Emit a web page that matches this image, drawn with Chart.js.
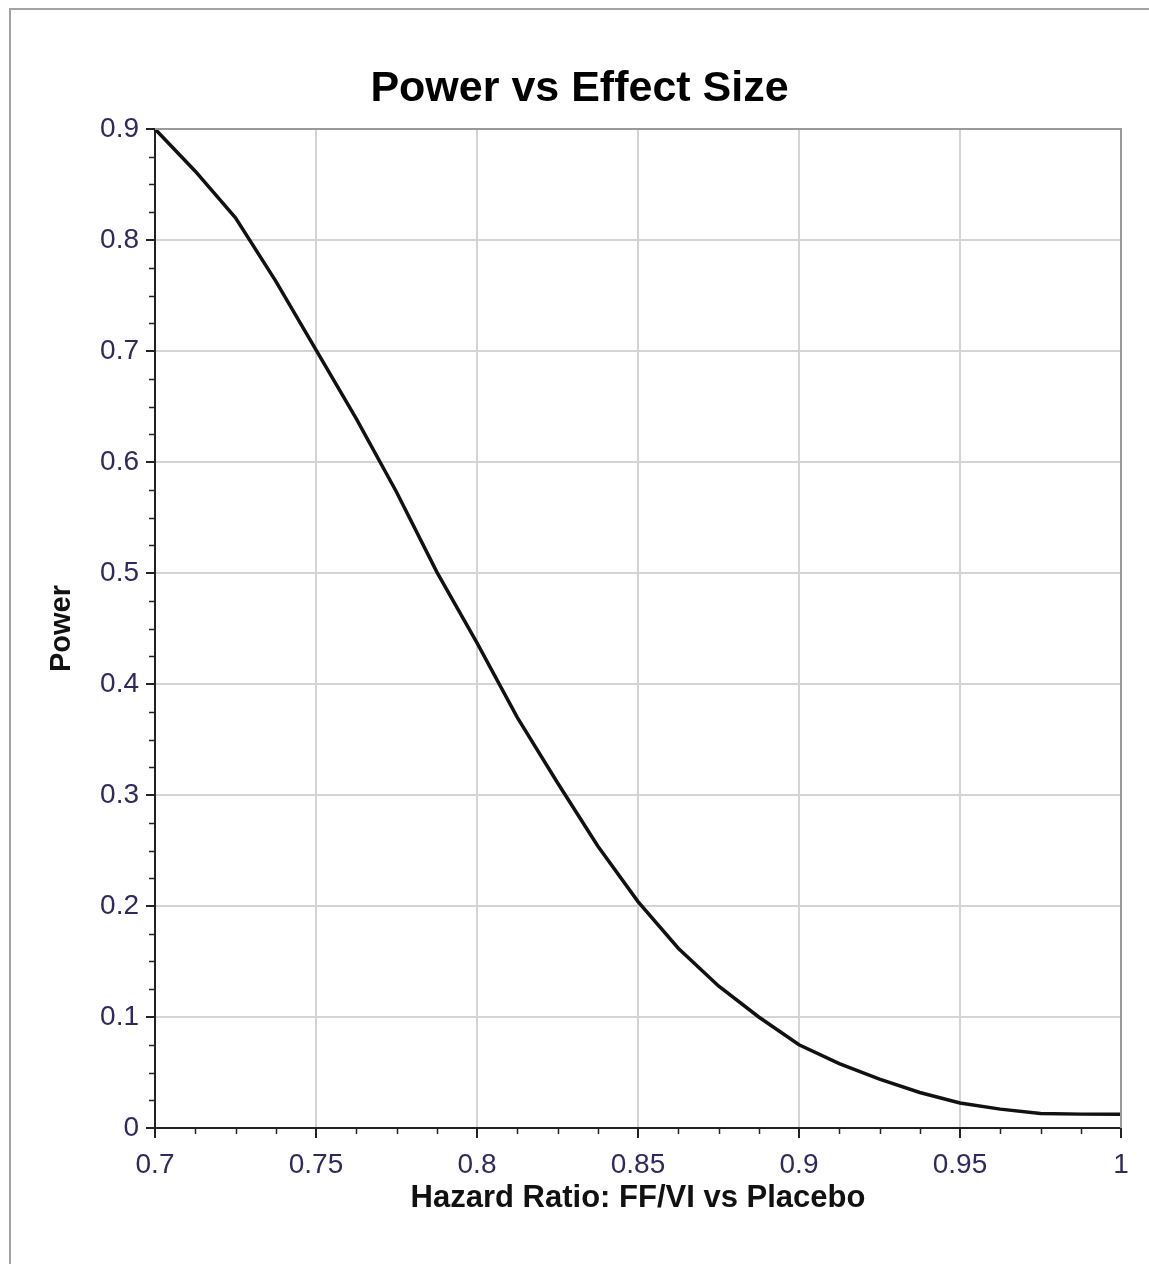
<!DOCTYPE html>
<html>
<head>
<meta charset="utf-8">
<title>Power vs Effect Size</title>
<script src="https://cdn.jsdelivr.net/npm/chart.js@4.4.0/dist/chart.umd.min.js"></script>
<style>
    html, body { margin: 0; padding: 0; background: #fff; overflow: hidden; }
    #wrap { width: 1149px; height: 1264px; position: relative; }
</style>
</head>
<body>
<div id="wrap"><canvas id="powerChart"></canvas></div>
<script>
// Hazard ratio (x) and power (y)
const hazardRatio = [0.7, 0.7125, 0.725, 0.7375, 0.75, 0.7625, 0.775, 0.7875, 0.8, 0.8125,
    0.825, 0.8375, 0.85, 0.8625, 0.875, 0.8875, 0.9, 0.9125, 0.925, 0.9375,
    0.95, 0.9625, 0.975, 0.9875, 1.0];
const power = [0.900, 0.862, 0.820, 0.763, 0.701, 0.639, 0.573, 0.501, 0.437, 0.370,
    0.311, 0.254, 0.204, 0.162, 0.128, 0.100, 0.075, 0.058, 0.044, 0.032,
    0.0225, 0.017, 0.013, 0.0125, 0.0125];

// Tick labels
const xTicks = [0.7, 0.75, 0.8, 0.85, 0.9, 0.95, 1];
const yTicks = [0, 0.1, 0.2, 0.3, 0.4, 0.5, 0.6, 0.7, 0.8, 0.9];
const xMinorPerMajor = 4;
const yMinorPerMajor = 4;

const tickFont = { family: 'Liberation Sans, Arial, sans-serif', size: 28 };
const tickColor = '#33285e';

const fmt = v => String(Number(v.toFixed(4)));

// gray outer frame + gray top/right plot border + minor ticks
const decorPlugin = {
    id: 'decor',
    beforeDraw(chart) {
        const ctx = chart.ctx;
        ctx.save();
        ctx.strokeStyle = '#a3a3a3';
        ctx.lineWidth = 2;
        ctx.beginPath();
        ctx.moveTo(10, chart.height + 5);
        ctx.lineTo(10, 9);
        ctx.lineTo(chart.width + 5, 9);
        ctx.stroke();
        ctx.restore();
    },
    afterDraw(chart) {
        const ctx = chart.ctx;
        const { left, right, top, bottom } = chart.chartArea;
        const xs = chart.scales.x, ys = chart.scales.y;
        ctx.save();
        ctx.strokeStyle = '#9a9a9a';
        ctx.lineWidth = 2;
        ctx.beginPath();
        ctx.moveTo(left, top);
        ctx.lineTo(right, top);
        ctx.lineTo(right, bottom);
        ctx.stroke();

        ctx.strokeStyle = '#222';
        ctx.lineWidth = 1.5;
        ctx.beginPath();
        for (let i = 0; i < xTicks.length - 1; i++) {
            const step = (xTicks[i + 1] - xTicks[i]) / xMinorPerMajor;
            for (let k = 1; k < xMinorPerMajor; k++) {
                const px = Math.round(xs.getPixelForValue(xTicks[i] + k * step)) + 0.5;
                ctx.moveTo(px, bottom);
                ctx.lineTo(px, bottom + 6);
            }
        }
        for (let i = 0; i < yTicks.length - 1; i++) {
            const step = (yTicks[i + 1] - yTicks[i]) / yMinorPerMajor;
            for (let k = 1; k < yMinorPerMajor; k++) {
                const py = Math.round(ys.getPixelForValue(yTicks[i] + k * step)) + 0.5;
                ctx.moveTo(left, py);
                ctx.lineTo(left - 6, py);
            }
        }
        ctx.stroke();
        ctx.restore();
    }
};

const ctx = document.getElementById('powerChart').getContext('2d');
new Chart(ctx, {
    type: 'line',
    data: {
        datasets: [{
            data: hazardRatio.map((x, i) => ({ x: x, y: power[i] })),
            borderColor: '#111',
            borderWidth: 3.5,
            pointRadius: 0,
            fill: false,
            tension: 0,
            clip: 4
        }]
    },
    options: {
        responsive: true,
        maintainAspectRatio: false,
        animation: false,
        layout: { padding: { left: 38, right: 28, top: 0, bottom: 36 } },
        plugins: {
            legend: { display: false },
            tooltip: { enabled: false },
            title: {
                display: true,
                text: 'Power vs Effect Size',
                color: '#000',
                font: { family: 'Liberation Sans, Arial, sans-serif', size: 43, weight: 'bold' },
                padding: { top: 63, bottom: 14.4 }
            }
        },
        scales: {
            x: {
                type: 'linear',
                min: 0.7,
                max: 1,
                afterBuildTicks: s => { s.ticks = xTicks.map(v => ({ value: v })); },
                afterFit: s => { s.height = 100; },
                ticks: { font: tickFont, color: tickColor, padding: 10, maxRotation: 0, callback: v => fmt(v) },
                grid: { color: '#d4d4d4', lineWidth: 2, tickColor: '#222', tickLength: 10, tickWidth: 2 },
                border: { color: '#222', width: 2 },
                title: {
                    display: true,
                    text: 'Hazard Ratio: FF/VI vs Placebo',
                    color: '#111',
                    font: { family: 'Liberation Sans, Arial, sans-serif', size: 31, weight: 'bold' },
                    padding: { top: 0, bottom: 11 }
                }
            },
            y: {
                type: 'linear',
                min: 0,
                max: 0.9,
                afterBuildTicks: s => { s.ticks = yTicks.map(v => ({ value: v })); },
                afterFit: s => { s.width = 117; },
                ticks: { font: tickFont, color: tickColor, padding: 7, callback: v => fmt(v) },
                grid: { color: '#d4d4d4', lineWidth: 2, tickColor: '#222', tickLength: 9, tickWidth: 2 },
                border: { color: '#222', width: 2 },
                title: {
                    display: true,
                    text: 'Power',
                    color: '#111',
                    font: { family: 'Liberation Sans, Arial, sans-serif', size: 29, weight: 'bold' },
                    padding: { top: 7, bottom: 0 }
                }
            }
        }
    },
    plugins: [decorPlugin]
});
</script>
</body>
</html>
